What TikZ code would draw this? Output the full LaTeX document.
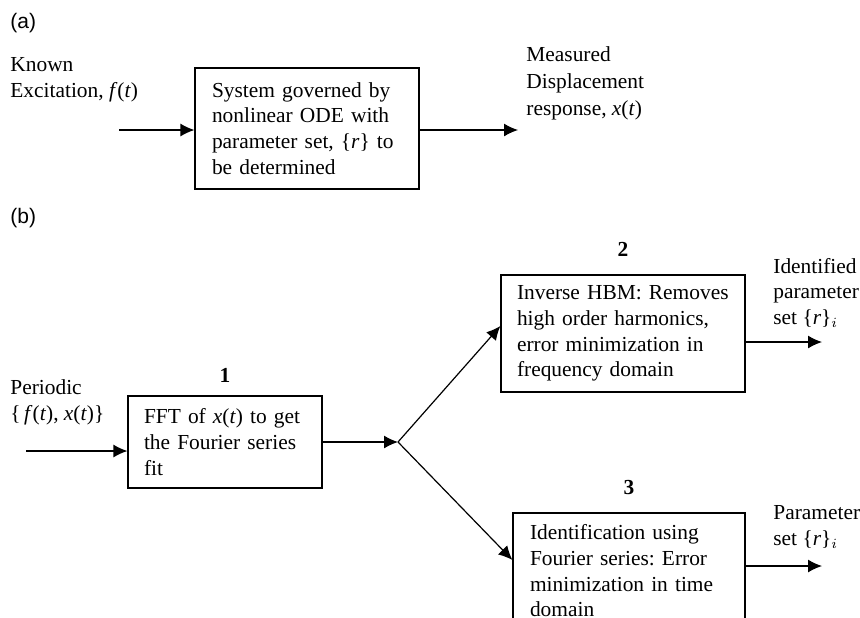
\documentclass[tikz,border=0pt]{standalone}
\usepackage{fontspec}
\setmainfont{Liberation Serif}
\setsansfont{Liberation Sans}
\usepackage{tikz}
\usetikzlibrary{arrows.meta,positioning}
\frenchspacing

\tikzset{
    blk/.style={draw,line width=0.6pt,align=left,inner ysep=0pt},
    txt/.style={align=left,inner sep=0pt,anchor=west},
    num/.style={inner sep=0pt,font=\fontsize{10.7}{12.85}\selectfont\bfseries},
    flow/.style={line width=0.6pt,-{Latex[length=7pt,width=6.5pt]}},
    lnk/.style={line width=0.6pt}
}

\begin{document}
\begin{tikzpicture}[x=0.5pt,y=-0.5pt,font=\fontsize{10.7}{12.85}\selectfont]
    \useasboundingbox (0,0) rectangle (860,617);
    \clip (0,0) rectangle (860,617);

    % (a)
    \node[txt,font=\sffamily\fontsize{10.5}{12}\selectfont] (tagA) at (10,23) {(a)};
    \node[blk,inner xsep=8.5pt,text width=95pt,minimum height=60.5pt] (sys) at (307,128.5)
        {System governed by\\nonlinear ODE with\\parameter set, \{\textit{r}\} to\\be determined};
    \node[txt] (exc) at (10,80) {Known\\Excitation,\ \textit{f}(\textit{t})};
    \node[txt] (meas) at (526,83) {Measured\\[0.7pt]Displacement\\[0.7pt]response, \textit{x}(\textit{t})};
    \coordinate (inA) at (119,130);
    \coordinate (outA) at (518,130);
    \draw[flow] (inA) -- (inA -| sys.west);
    \draw[flow] (outA -| sys.east) -- (outA);

    % (b)
    \node[txt,font=\sffamily\fontsize{10.5}{12}\selectfont] (tagB) at (10,218) {(b)};
    \node[blk,inner xsep=8pt,text width=81pt,minimum height=46pt] (fft) at (225,442)
        {FFT of \textit{x}(\textit{t}) to get\\the Fourier series\\fit};
    \node[blk,inner xsep=8pt,text width=106pt,minimum height=58.5pt] (hbm) at (623,333.5)
        {Inverse HBM: Removes\\high order harmonics,\\error minimization in\\frequency domain};
    \node[blk,inner xsep=8.5pt,text width=99pt,minimum height=58pt] (fsid) at (629,571)
        {Identification using\\Fourier series: Error\\minimization in time\\domain};
    \node[num,above=6.5pt of fft] (n1) {1};
    \node[num,above=9pt of hbm] (n2) {2};
    \node[num,above=8.5pt of fsid] (n3) {3};
    \node[txt] (per) at (10,402) {Periodic\\\{\,\textit{f}(\textit{t}), \textit{x}(\textit{t})\}};
    \node[txt] (idf) at (773,293) {Identified\\parameter\\set \{\textit{r}\}$_i$};
    \node[txt] (par) at (773,527) {Parameter\\set \{\textit{r}\}$_i$};

    \coordinate (inB) at (26,451);
    \coordinate (jct) at (398,442);
    \coordinate (out2) at (822,342);
    \coordinate (out3) at (822,566);
    \draw[flow] (inB) -- (inB -| fft.west);
    \draw[flow] (fft.east) -- (jct);
    \draw[flow] (jct) -- ([yshift=3.75pt]hbm.west);
    \draw[flow] (jct) -- ([yshift=5.5pt]fsid.west);
    \draw[flow] (out2 -| hbm.east) -- (out2);
    \draw[flow] (out3 -| fsid.east) -- (out3);
\end{tikzpicture}
\end{document}
